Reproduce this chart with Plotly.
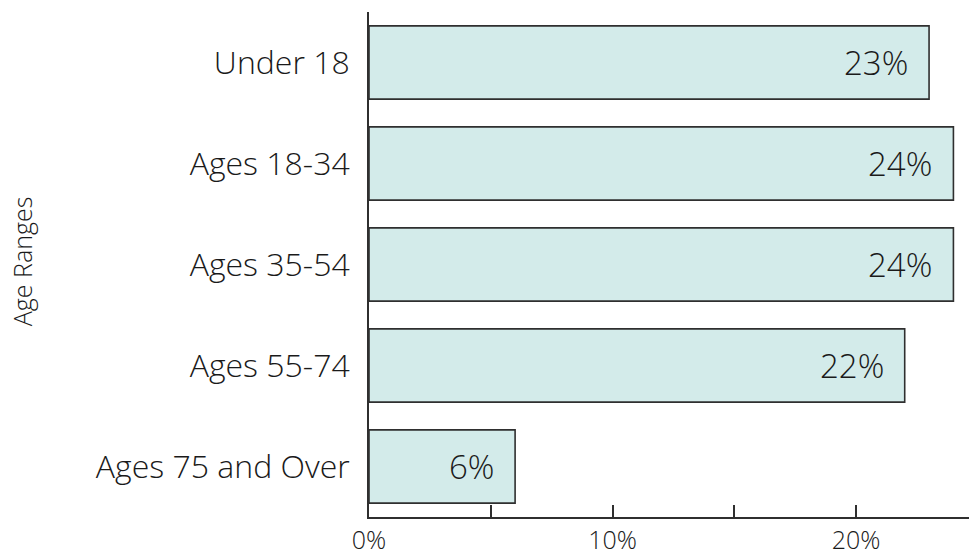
import plotly.graph_objects as go

categories = ["Under 18", "Ages 18-34", "Ages 35-54", "Ages 55-74", "Ages 75 and Over"]
values = [23, 24, 24, 22, 6]
tick_vals = [0, 5, 10, 15, 20]
tick_text = ["0%", "", "10%", "", "20%"]
bar_labels = [f"{v}%" for v in values]

FONT = "Open Sans, Liberation Sans, Arial, sans-serif"
W = 300
TXT = "#1a1a1a"

fig = go.Figure()
fig.add_trace(go.Bar(
    x=values, y=categories, orientation="h",
    marker=dict(color="#d3ebea", line=dict(color="#2f2f2f", width=1.6)),
    hoverinfo="skip",
))

for v, c, t in zip(values, categories, bar_labels):
    fig.add_annotation(x=v, y=c, text=t, showarrow=False, xanchor="right",
                       xshift=-19, font=dict(family=FONT, size=33, color=TXT, weight=W))

fig.add_annotation(xref="paper", yref="paper", x=-0.578, y=0.505, text="Age Ranges",
                   textangle=-90, showarrow=False, xanchor="center", yanchor="middle",
                   font=dict(family=FONT, size=25, color=TXT, weight=W))

fig.update_layout(
    width=969, height=556,
    margin=dict(l=369, r=0, t=12, b=34),
    paper_bgcolor="white", plot_bgcolor="white",
    bargap=0.275,
    showlegend=False,
    xaxis=dict(range=[0, 24.64], tickvals=tick_vals, ticktext=tick_text,
               ticks="inside", ticklen=12, tickwidth=1.6, tickcolor="#2f2f2f",
               showline=True, linecolor="#2f2f2f", linewidth=1.8,
               showgrid=False, zeroline=False,
               tickfont=dict(family=FONT, size=25, color=TXT, weight=W)),
    yaxis=dict(categoryorder="array", categoryarray=categories, autorange="reversed",
               showline=True, linecolor="#2f2f2f", linewidth=1.8,
               showgrid=False, zeroline=False, ticks="", ticklabelstandoff=11,
               tickfont=dict(family=FONT, size=32, color=TXT, weight=W)),
)

fig.write_html("out.html")
